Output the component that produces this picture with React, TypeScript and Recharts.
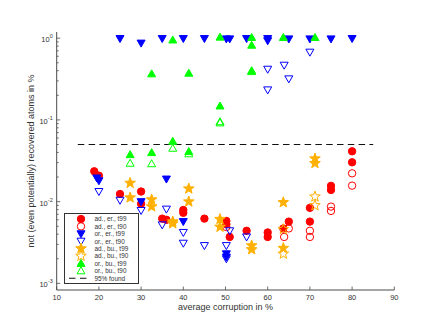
import {
  ScatterChart,
  Scatter,
  XAxis,
  YAxis,
  ReferenceLine,
} from "recharts";

const RED = "#FF0000";
const BLUE = "#0000FF";
const ORANGE = "#FFB000";
const GREEN = "#00FF00";
const AXIS = "#4a4a4a";
const TEXT = "#333333";

// ad., er., t99
const adErT99 = [
  { x: 18.9, y: 0.0235 }, { x: 20, y: 0.0208 }, { x: 25, y: 0.0124 },
  { x: 30, y: 0.0133 }, { x: 30, y: 0.0094 }, { x: 35, y: 0.0062 },
  { x: 36, y: 0.006 }, { x: 40, y: 0.0079 }, { x: 40, y: 0.0073 },
  { x: 45, y: 0.0062 }, { x: 50.2, y: 0.0058 }, { x: 50.2, y: 0.0053 },
  { x: 51, y: 0.0037 }, { x: 55, y: 0.0044 }, { x: 60, y: 0.0042 },
  { x: 60, y: 0.0037 }, { x: 63.7, y: 0.0047 }, { x: 65, y: 0.0057 },
  { x: 70, y: 0.0084 }, { x: 70, y: 0.0057 }, { x: 75, y: 0.0156 },
  { x: 75, y: 0.0139 }, { x: 80, y: 0.0413 }, { x: 80, y: 0.0303 },
];
// ad., er., t90
const adErT90 = [
  { x: 50.2, y: 0.0049 }, { x: 63.9, y: 0.0037 }, { x: 65, y: 0.0047 },
  { x: 70, y: 0.0044 }, { x: 70, y: 0.0037 }, { x: 75, y: 0.0087 },
  { x: 75, y: 0.0077 }, { x: 80, y: 0.0222 }, { x: 80, y: 0.0157 },
];
// or., er., t99
const orErT99 = [
  { x: 25, y: 0.99 }, { x: 30, y: 0.87 }, { x: 35, y: 0.99 },
  { x: 40, y: 0.99 }, { x: 45, y: 0.99 }, { x: 50.2, y: 0.98 },
  { x: 51, y: 0.98 }, { x: 55, y: 0.99 }, { x: 60, y: 0.99 },
  { x: 60, y: 0.93 }, { x: 65, y: 0.98 }, { x: 70, y: 0.98 },
  { x: 75, y: 0.98 }, { x: 80, y: 0.99 }, { x: 19.5, y: 0.0195 },
  { x: 20, y: 0.018 }, { x: 36, y: 0.0189 }, { x: 30, y: 0.01 },
  { x: 40, y: 0.0057 }, { x: 50.2, y: 0.0023 }, { x: 50.2, y: 0.0021 },
];
// or., er., t90
const orErT90 = [
  { x: 20, y: 0.0133 }, { x: 25, y: 0.0104 }, { x: 30, y: 0.0078 },
  { x: 35, y: 0.0052 }, { x: 36, y: 0.0081 }, { x: 40, y: 0.0042 },
  { x: 40, y: 0.0031 }, { x: 45, y: 0.0029 }, { x: 50.2, y: 0.0029 },
  { x: 50.2, y: 0.002 }, { x: 51, y: 0.0044 }, { x: 55, y: 0.0037 },
  { x: 60, y: 0.417 }, { x: 60, y: 0.233 }, { x: 63.9, y: 0.467 },
  { x: 65, y: 0.318 }, { x: 70, y: 0.674 },
];
// ad., bu., t99
const adBuT99 = [
  { x: 27.4, y: 0.0169 }, { x: 27.4, y: 0.0112 }, { x: 32.5, y: 0.0106 },
  { x: 32.5, y: 0.0087 }, { x: 37.5, y: 0.0057 }, { x: 37.5, y: 0.0054 },
  { x: 41.3, y: 0.0144 }, { x: 41.3, y: 0.01 }, { x: 48.7, y: 0.0061 },
  { x: 48.7, y: 0.0049 }, { x: 56.2, y: 0.0029 }, { x: 56.2, y: 0.0026 },
  { x: 63.7, y: 0.0098 }, { x: 63.7, y: 0.0027 }, { x: 71.2, y: 0.0336 },
  { x: 71.2, y: 0.0295 },
];
// ad., bu., t90
const adBuT90 = [
  { x: 63.7, y: 0.0046 }, { x: 63.7, y: 0.0023 },
  { x: 71.2, y: 0.0115 }, { x: 71.2, y: 0.009 },
];
// or., bu., t99
const orBuT99 = [
  { x: 27.4, y: 0.0376 }, { x: 32.5, y: 0.0398 }, { x: 32.5, y: 0.366 },
  { x: 37.5, y: 0.95 }, { x: 37.5, y: 0.0548 }, { x: 41.3, y: 0.373 },
  { x: 41.3, y: 0.041 }, { x: 48.7, y: 1.03 }, { x: 48.7, y: 0.148 },
  { x: 56.2, y: 1.02 }, { x: 56.2, y: 0.82 }, { x: 56.2, y: 0.4 },
  { x: 63.7, y: 1.02 }, { x: 71.2, y: 1.02 },
];
// or., bu., t90
const orBuT90 = [
  { x: 27.4, y: 0.0295 }, { x: 32.5, y: 0.0291 }, { x: 37.5, y: 0.045 },
  { x: 41.3, y: 0.0385 }, { x: 48.7, y: 0.095 }, { x: 48.7, y: 0.092 },
  { x: 56.2, y: 0.39 },
];

const found95 = 0.05;
const xTicks = [10, 20, 30, 40, 50, 60, 70, 80, 90];
const yMajor = [0.001, 0.01, 0.1, 1];
// minor log ticks 2..9 x 10^k
const yMinor: number[] = [];
[0.001, 0.01, 0.1].forEach((b) => {
  for (let m = 2; m <= 9; m++) yMinor.push(+(m * b).toPrecision(3));
});

type Kind = "circle" | "down" | "up" | "star";

const series = [
  { name: "ad., er., t99", data: adErT99, kind: "circle", color: RED, filled: true },
  { name: "ad., er., t90", data: adErT90, kind: "circle", color: RED, filled: false },
  { name: "or., er., t99", data: orErT99, kind: "down", color: BLUE, filled: true },
  { name: "or., er., t90", data: orErT90, kind: "down", color: BLUE, filled: false },
  { name: "ad., bu., t99", data: adBuT99, kind: "star", color: ORANGE, filled: true },
  { name: "ad., bu., t90", data: adBuT90, kind: "star", color: ORANGE, filled: false },
  { name: "or., bu., t99", data: orBuT99, kind: "up", color: GREEN, filled: true },
  { name: "or., bu., t90", data: orBuT90, kind: "up", color: GREEN, filled: false },
];

const starPoints = (cx: number, cy: number, ro: number, ri: number) => {
  const pts: string[] = [];
  for (let i = 0; i < 10; i++) {
    const r = i % 2 === 0 ? ro : ri;
    const a = -Math.PI / 2 + (i * Math.PI) / 5;
    pts.push(`${cx + r * Math.cos(a)},${cy + r * Math.sin(a)}`);
  }
  return pts.join(" ");
};

const Marker = ({
  kind,
  cx,
  cy,
  color,
  filled,
}: {
  kind: Kind;
  cx: number;
  cy: number;
  color: string;
  filled: boolean;
}) => {
  const fill = filled ? color : "none";
  if (kind === "circle")
    return <circle cx={cx} cy={cy} r={3.7} fill={fill} stroke={color} strokeWidth={1} />;
  if (kind === "down")
    return (
      <polygon
        points={`${cx - 4},${cy - 3} ${cx + 4},${cy - 3} ${cx},${cy + 4}`}
        fill={fill}
        stroke={color}
        strokeWidth={1}
      />
    );
  if (kind === "up")
    return (
      <polygon
        points={`${cx - 4},${cy + 3} ${cx + 4},${cy + 3} ${cx},${cy - 4}`}
        fill={fill}
        stroke={color}
        strokeWidth={1}
      />
    );
  return (
    <polygon
      points={starPoints(cx, cy, 5.6, 2.3)}
      fill={fill}
      stroke={color}
      strokeWidth={1}
      strokeLinejoin="miter"
    />
  );
};

// eslint-disable-next-line @typescript-eslint/no-explicit-any
const YTick = (props: any) => {
  const { x, y, payload } = props;
  const v = payload.value as number;
  const lg = Math.log10(v);
  const exp = Math.round(lg);
  const major = Math.abs(lg - exp) < 1e-6;
  return (
    <g>
      <line x1={x} x2={x + (major ? 3.5 : 2)} y1={y} y2={y} stroke={AXIS} strokeWidth={0.8} />
      {major && (
        <text x={x - 4} y={y + 4} textAnchor="end" fontSize={7.5} fill={TEXT}>
          <tspan>10</tspan>
          <tspan dy={-4} fontSize={5.5}>
            {exp}
          </tspan>
        </text>
      )}
    </g>
  );
};

// eslint-disable-next-line @typescript-eslint/no-explicit-any
const XTick = (props: any) => {
  const { x, y, payload } = props;
  return (
    <g>
      <line x1={x} x2={x} y1={y} y2={y - 3.5} stroke={AXIS} strokeWidth={0.8} />
      <text x={x} y={y + 9.5} textAnchor="middle" fontSize={7.5} fill={TEXT}>
        {payload.value}
      </text>
    </g>
  );
};

const ROW = 7.4;
const LEGEND_FONT = 6.4;

const Legend = () => (
  <svg
    width={76}
    height={72}
    style={{ position: "absolute", left: 64, top: 213, overflow: "visible" }}
  >
    <rect x={0.5} y={0.5} width={74} height={70} fill="#fff" stroke="#333" strokeWidth={1} />
    {series.map((s, i) => (
      <g key={s.name}>
        <Marker kind={s.kind as Kind} cx={17} cy={6 + i * ROW} color={s.color} filled={s.filled} />
        <text x={30.5} y={6 + i * ROW + 2.3} fontSize={LEGEND_FONT} fill={TEXT}>
          {s.name}
        </text>
      </g>
    ))}
    <line
      x1={5}
      x2={23}
      y1={6 + 8 * ROW}
      y2={6 + 8 * ROW}
      stroke="#111"
      strokeWidth={1.1}
      strokeDasharray="6.5 4.5"
    />
    <text x={30.5} y={6 + 8 * ROW + 2.3} fontSize={LEGEND_FONT} fill={TEXT}>
      95% found
    </text>
  </svg>
);

export default function App() {
  return (
    <div
      style={{
        position: "absolute",
        left: 0,
        top: 0,
        width: 436,
        height: 327,
        background: "#fff",
        fontFamily: "'Liberation Sans', Arial, sans-serif",
      }}
    >
      <ScatterChart
        width={436}
        height={327}
        margin={{ top: 32, right: 41.7, bottom: 0, left: 0 }}
      >
        <XAxis
          type="number"
          dataKey="x"
          domain={[10, 90]}
          ticks={xTicks}
          interval={0}
          allowDataOverflow
          height={37}
          tickSize={0}
          tickMargin={0}
          tickLine={false}
          tick={<XTick />}
          axisLine={{ stroke: AXIS, strokeWidth: 1 }}
          label={{
            value: "average corruption in %",
            position: "insideTop",
            offset: 13.5,
            fontSize: 9,
            fill: TEXT,
          }}
        />
        <YAxis
          type="number"
          dataKey="y"
          scale="log"
          domain={[0.00083, 1.19]}
          ticks={[...yMajor, ...yMinor]}
          interval={0}
          allowDataOverflow
          width={56.7}
          tickSize={0}
          tickMargin={0}
          tickLine={false}
          tick={<YTick />}
          axisLine={{ stroke: AXIS, strokeWidth: 1 }}
          label={{
            value: "not (even potentially) recovered atoms in %",
            angle: -90,
            position: "insideLeft",
            offset: 30.5,
            fontSize: 9,
            fill: TEXT,
            style: { textAnchor: "middle" },
          }}
        />
        <ReferenceLine
          segment={[
            { x: 15, y: found95 },
            { x: 85, y: found95 },
          ]}
          stroke="#111"
          strokeWidth={1.2}
          strokeDasharray="6.5 4.3"
        />
        {series.map((s) => (
          <Scatter
            key={s.name}
            name={s.name}
            data={s.data}
            isAnimationActive={false}
            // eslint-disable-next-line @typescript-eslint/no-explicit-any
            shape={(p: any) => (
              <Marker kind={s.kind as Kind} cx={p.cx} cy={p.cy} color={s.color} filled={s.filled} />
            )}
          />
        ))}
      </ScatterChart>
      <Legend />
    </div>
  );
}
